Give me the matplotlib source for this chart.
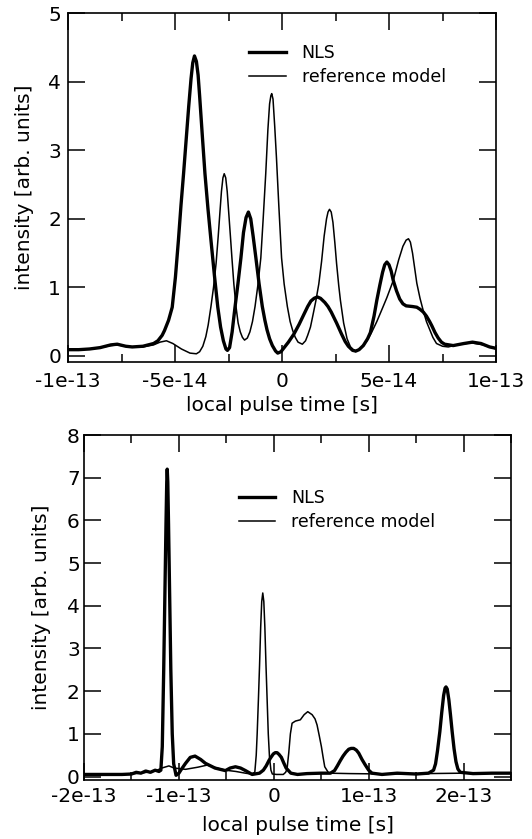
import matplotlib
matplotlib.use("Agg")
import matplotlib.pyplot as plt
from matplotlib.ticker import MultipleLocator
import numpy as np

plt.rcParams['font.family'] = ['DejaVu Sans']

# time axis in units of 1e-14 s
t_top_nls = [-10.0, -9.5, -9.0, -8.5, -8.0, -7.7, -7.3, -7.0, -6.5, -6.0, -5.8, -5.6,
             -5.49, -5.3, -5.13, -4.98, -4.84, -4.72, -4.6, -4.48, -4.36, -4.25, -4.17,
             -4.09, -4.0, -3.92, -3.85, -3.72, -3.6, -3.46, -3.32, -3.16, -3.0, -2.87,
             -2.74, -2.62, -2.55, -2.45, -2.33, -2.2, -2.06, -1.92, -1.8, -1.68, -1.57,
             -1.46, -1.35, -1.22, -1.07, -0.92, -0.8, -0.7, -0.58, -0.45, -0.3, -0.2,
             -0.05, 0.1, 0.3, 0.56, 0.8, 1.03, 1.2, 1.35, 1.5, 1.65, 1.8, 2.0, 2.15,
             2.3, 2.55, 2.78, 2.95, 3.1, 3.3, 3.45, 3.6, 3.8, 4.0, 4.13, 4.3, 4.43,
             4.57, 4.7, 4.8, 4.9, 5.0, 5.1, 5.2, 5.35, 5.5, 5.65, 5.8, 6.1, 6.3, 6.45,
             6.6, 6.75, 6.9, 7.0, 7.15, 7.3, 7.45, 7.6, 8.0, 8.5, 8.9, 9.3, 9.7, 10.0]
i_top_nls = [0.09, 0.09, 0.10, 0.12, 0.16, 0.17, 0.14, 0.13, 0.14, 0.18, 0.22, 0.3,
             0.37, 0.52, 0.71, 1.15, 1.69, 2.2, 2.66, 3.15, 3.64, 4.05, 4.28,
             4.38, 4.3, 4.1, 3.8, 3.2, 2.66, 2.15, 1.69, 1.18, 0.71, 0.42,
             0.22, 0.1, 0.08, 0.12, 0.35, 0.7, 1.05, 1.43, 1.8, 2.02, 2.10,
             2.0, 1.75, 1.43, 1.05, 0.72, 0.52, 0.38, 0.25, 0.15, 0.07, 0.04,
             0.06, 0.12, 0.2, 0.32, 0.46, 0.61, 0.72, 0.8, 0.84, 0.86, 0.84, 0.78, 0.72,
             0.64, 0.48, 0.32, 0.21, 0.14, 0.08, 0.07, 0.09, 0.15, 0.25, 0.34, 0.58, 0.81,
             1.03, 1.22, 1.33, 1.37, 1.33, 1.24, 1.1, 0.95, 0.83, 0.76, 0.73, 0.72, 0.71, 0.68,
             0.64, 0.58, 0.5, 0.44, 0.34, 0.26, 0.2, 0.17, 0.15, 0.18, 0.2, 0.18, 0.13, 0.11]

t_top_ref = [-10.0, -9.0, -8.5, -8.0, -7.7, -7.3, -7.0, -6.5, -6.0, -5.7, -5.4, -5.1,
             -4.7, -4.3, -4.0, -3.85, -3.7, -3.56, -3.45, -3.32, -3.2, -3.08, -2.98,
             -2.9, -2.83, -2.76, -2.7, -2.63, -2.56, -2.48, -2.4, -2.34, -2.25, -2.15,
             -2.05, -1.95, -1.85, -1.75, -1.62, -1.5, -1.38, -1.26, -1.12, -0.99, -0.88,
             -0.76, -0.66, -0.58, -0.52, -0.48, -0.42, -0.34, -0.26, -0.15, -0.02, 0.1,
             0.25, 0.38, 0.5, 0.62, 0.75, 0.95, 1.1, 1.2, 1.33, 1.45, 1.58, 1.72, 1.85,
             1.97, 2.08, 2.15, 2.22, 2.3, 2.38, 2.47, 2.55, 2.65, 2.73, 2.88, 3.04, 3.2,
             3.43, 3.65, 3.97, 4.2, 4.43, 4.7, 4.9, 5.2, 5.45, 5.65, 5.8, 5.91, 6.0,
             6.1, 6.2, 6.3, 6.45, 6.6, 6.75, 6.92, 7.05, 7.22, 7.5, 7.77, 8.3, 8.85,
             9.4, 10.0]
i_top_ref = [0.09, 0.10, 0.12, 0.15, 0.16, 0.14, 0.13, 0.13, 0.16, 0.2, 0.22, 0.18,
             0.1, 0.04, 0.03, 0.06, 0.14, 0.28, 0.45, 0.72, 1.0, 1.35, 1.75,
             2.1, 2.4, 2.6, 2.66, 2.6, 2.4, 2.05, 1.7, 1.43, 1.05, 0.72,
             0.48, 0.35, 0.27, 0.23, 0.26, 0.35, 0.5, 0.72, 1.05, 1.43, 2.0,
             2.66, 3.3, 3.68, 3.8, 3.83, 3.75, 3.35, 2.9, 2.2, 1.43, 1.05,
             0.72, 0.5, 0.37, 0.27, 0.2, 0.17, 0.22, 0.3, 0.42, 0.6, 0.8, 1.05, 1.38,
             1.75, 2.0, 2.1, 2.14, 2.1, 1.95, 1.65, 1.35, 1.03, 0.81, 0.48, 0.25, 0.13,
             0.06, 0.1, 0.22, 0.35, 0.5, 0.7, 0.85, 1.1, 1.4, 1.6, 1.69, 1.71, 1.66,
             1.5, 1.28, 1.06, 0.84, 0.66, 0.5, 0.37, 0.27, 0.18, 0.14, 0.13, 0.17, 0.19,
             0.16, 0.1]

t_bot_nls = [-20.0, -18.0, -16.0, -15.0, -14.5, -14.0, -13.5, -13.0, -12.5, -12.1,
             -11.9, -11.75, -11.6, -11.48, -11.36, -11.28, -11.23, -11.17, -11.09,
             -10.97, -10.85, -10.7, -10.55, -10.3, -10.0, -9.8, -9.3, -8.8, -8.3,
             -7.7, -7.2, -6.2, -5.1, -4.6, -4.04, -3.5, -2.98, -2.28, -1.5, -1.1,
             -0.8, -0.5, -0.3, -0.05, 0.15, 0.35, 0.55, 0.8, 1.05, 1.3, 1.8, 2.5,
             3.5, 5.0, 5.97, 6.4, 6.7, 7.0, 7.3, 7.6, 7.9, 8.15, 8.42, 8.7, 8.95, 9.3,
             9.65, 10.0, 10.35, 11.4, 13.0, 15.0, 16.3, 16.84, 17.05, 17.25, 17.5,
             17.7, 17.9, 18.05, 18.15, 18.28, 18.45, 18.62, 18.8, 19.0, 19.2, 19.4,
             19.65, 21.0, 23.0, 25.0]
i_bot_nls = [0.05, 0.05, 0.05, 0.06, 0.1, 0.08, 0.13, 0.1, 0.15, 0.12,
             0.15, 0.7, 2.5, 4.2, 5.9, 6.9, 7.2, 6.9, 5.9,
             4.2, 2.5, 1.0, 0.3, 0.03, 0.08, 0.15, 0.31, 0.45, 0.48,
             0.4, 0.31, 0.2, 0.14, 0.2, 0.23, 0.2, 0.14, 0.05, 0.08, 0.15,
             0.25, 0.38, 0.45, 0.53, 0.56, 0.56, 0.52, 0.45, 0.32, 0.2, 0.08, 0.05,
             0.07, 0.08, 0.08, 0.14, 0.25, 0.37, 0.48, 0.57, 0.64, 0.66, 0.66, 0.62, 0.55, 0.4,
             0.27, 0.15, 0.08, 0.05, 0.08, 0.06, 0.08, 0.15, 0.3, 0.6, 1.05,
             1.5, 1.9, 2.07, 2.1, 2.05, 1.8, 1.45, 1.05, 0.65, 0.35, 0.18,
             0.1, 0.07, 0.08, 0.08]

t_bot_ref = [-20.0, -16.0, -14.0, -12.5, -11.8, -11.05, -10.5, -9.3, -8.0, -7.0,
             -6.0, -5.1, -4.0, -3.0, -2.4, -2.0, -1.85, -1.75, -1.62, -1.5, -1.38,
             -1.27, -1.16, -1.05, -0.94, -0.82, -0.7, -0.58, -0.45, -0.3, -0.15, 0.3,
             1.0, 1.25, 1.4, 1.58, 1.75, 1.93, 2.28, 2.8, 3.2, 3.58, 4.04, 4.35, 4.56,
             4.8, 5.02, 5.2, 5.37, 5.79, 8.0, 12.0, 16.0, 20.0, 25.0]
i_bot_ref = [0.05, 0.05, 0.08, 0.13, 0.2, 0.25, 0.2, 0.17, 0.22, 0.27,
             0.2, 0.15, 0.12, 0.08, 0.06, 0.1, 0.5, 1.0, 1.8, 2.6, 3.5,
             4.1, 4.3, 4.1, 3.5, 2.6, 1.8, 1.0, 0.45, 0.15, 0.06, 0.05,
             0.05, 0.1, 0.18, 0.56, 1.0, 1.25, 1.3, 1.33, 1.45, 1.52, 1.45, 1.35, 1.21,
             0.95, 0.7, 0.45, 0.23, 0.08, 0.07, 0.06, 0.07, 0.08, 0.09]

top_xticks = [-1e-13, -5e-14, 0, 5e-14, 1e-13]
top_xlabels = ['-1e-13', '-5e-14', '0', '5e-14', '1e-13']
bot_xticks = [-2e-13, -1e-13, 0, 1e-13, 2e-13]
bot_xlabels = ['-2e-13', '-1e-13', '0', '1e-13', '2e-13']

W, H = 532, 839
fig = plt.figure(figsize=(W / 100, H / 100), dpi=100)
ax1 = fig.add_axes([68 / W, 1 - 362 / H, 428 / W, 348.5 / H])
ax2 = fig.add_axes([84 / W, 1 - 780 / H, 427 / W, 345 / H])

fs = 14.5


def style(ax, xticks, xlabels, minor, xpad, ypad, xlpad, ylx):
    ax.set_xticks(xticks)
    ax.set_xticklabels(xlabels)
    ax.xaxis.set_minor_locator(MultipleLocator(minor))
    ax.yaxis.set_major_locator(MultipleLocator(1))
    ax.tick_params(which='both', direction='in', top=True, right=True, width=1.1,
                   labelsize=fs)
    ax.tick_params(which='major', length=12)
    ax.tick_params(which='minor', length=6)
    ax.tick_params(axis='x', pad=xpad)
    ax.tick_params(axis='y', pad=ypad)
    for s in ax.spines.values():
        s.set_linewidth(1.2)
    ax.set_xlabel('local pulse time [s]', fontsize=fs, labelpad=xlpad)
    ax.set_ylabel('intensity [arb. units]', fontsize=fs)
    ax.yaxis.set_label_coords(ylx, 0.5)


# top panel
ax1.plot(np.array(t_top_nls) * 1e-14, i_top_nls, color='black', lw=2.4, label='NLS')
ax1.plot(np.array(t_top_ref) * 1e-14, i_top_ref, color='black', lw=1.1,
         label='reference model')
ax1.set_xlim(-1e-13, 1e-13)
ax1.set_ylim(-0.09, 5)
style(ax1, top_xticks, top_xlabels, 2.5e-14, 7, 5, 4, -0.079)
ax1.legend(loc='upper left', bbox_to_anchor=(0.424, 0.913), frameon=False,
           fontsize=12.5, handlelength=2.1, handletextpad=0.9, labelspacing=0.35,
           borderpad=0, borderaxespad=0)

# bottom panel
ax2.plot(np.array(t_bot_nls) * 1e-14, i_bot_nls, color='black', lw=2.4, label='NLS')
ax2.plot(np.array(t_bot_ref) * 1e-14, i_bot_ref, color='black', lw=1.1,
         label='reference model')
ax2.set_xlim(-2e-13, 2.5e-13)
ax2.set_ylim(-0.08, 8)
style(ax2, bot_xticks, bot_xlabels, 5e-14, 5, 3, 7.5, -0.077)
ax2.legend(loc='upper left', bbox_to_anchor=(0.363, 0.843), frameon=False,
           fontsize=12.5, handlelength=2.1, handletextpad=0.9, labelspacing=0.35,
           borderpad=0, borderaxespad=0)

fig.savefig('out.png', dpi=100)
